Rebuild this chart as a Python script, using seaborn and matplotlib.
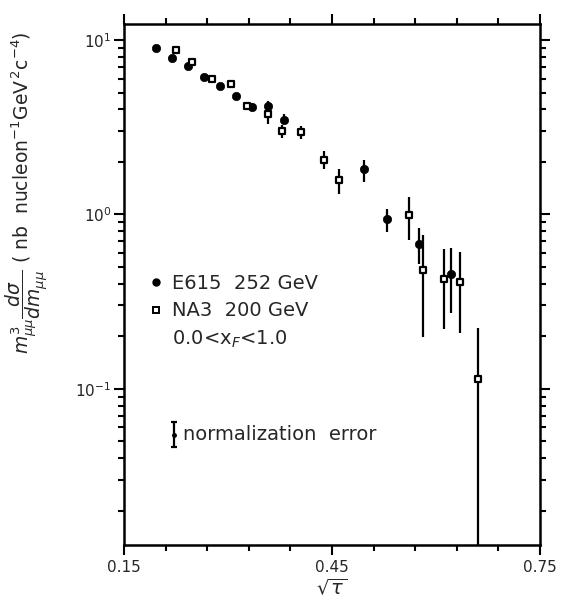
import numpy as np
import pandas as pd
import matplotlib
matplotlib.use("Agg")
import matplotlib.pyplot as plt
import seaborn as sns
from matplotlib.lines import Line2D
from matplotlib.ticker import FixedLocator, LogLocator, NullFormatter, FixedFormatter

# ---------------- data ----------------
e615_x = [0.196, 0.219, 0.242, 0.265, 0.288, 0.311, 0.335, 0.358, 0.381, 0.496, 0.529, 0.575, 0.622]
e615_y = [9.03, 7.91, 7.12, 6.15, 5.44, 4.77, 4.14, 4.19, 3.50, 1.81, 0.936, 0.678, 0.456]
e615_lo = [8.7, 7.6, 6.85, 5.9, 5.2, 4.55, 3.95, 3.95, 3.33, 1.53, 0.791, 0.521, 0.272]
e615_hi = [9.35, 8.2, 7.4, 6.4, 5.65, 5.0, 4.35, 4.45, 3.75, 2.06, 1.08, 0.839, 0.640]

na3_x = [0.225, 0.248, 0.277, 0.305, 0.327, 0.358, 0.378, 0.405, 0.438, 0.460, 0.561, 0.581, 0.612, 0.634, 0.661]
na3_y = [8.76, 7.44, 5.99, 5.61, 4.19, 3.74, 3.00, 2.95, 2.06, 1.57, 0.987, 0.481, 0.423, 0.408, 0.114]
na3_lo = [8.4, 7.15, 5.75, 5.4, 4.0, 3.32, 2.74, 2.69, 1.81, 1.30, 0.716, 0.197, 0.220, 0.208, 0.001]
na3_hi = [9.1, 7.75, 6.25, 5.85, 4.4, 3.96, 3.25, 3.20, 2.30, 1.81, 1.26, 0.757, 0.635, 0.607, 0.223]

legend_labels = ["E615  252 GeV", "NA3  200 GeV", r"0.0<x$_F$<1.0"]
norm_label = "normalization  error"
norm_x = 0.2224
norm_y = 0.0544
norm_lo = 0.0460
norm_hi = 0.0640

xtick_major = [0.15, 0.45, 0.75]
xtick_minor = [0.21, 0.27, 0.33, 0.39, 0.51, 0.57, 0.63, 0.69]
ylabel = r"$m^3_{\mu\mu}\dfrac{d\sigma}{dm_{\mu\mu}}$ ( nb  nucleon$^{-1}$GeV$^{\,2}$c$^{-4}$)"
xlabel = r"$\sqrt{\tau}$"

# ---------------- plot ----------------
sns.set_style("ticks")
plt.rcParams["font.family"] = ["DejaVu Sans"]
plt.rcParams["mathtext.fontset"] = "dejavusans"

fig = plt.figure(figsize=(5.61, 6.07), dpi=100)
ax = fig.add_axes([124 / 561, 1 - 545 / 607, 416 / 561, 521 / 607])

e615 = pd.DataFrame({"x": e615_x, "y": e615_y, "lo": e615_lo, "hi": e615_hi})
na3 = pd.DataFrame({"x": na3_x, "y": na3_y, "lo": na3_lo, "hi": na3_hi})

ax.vlines(e615["x"], e615["lo"], e615["hi"], color="black", lw=1.6, zorder=2)
ax.vlines(na3["x"], na3["lo"], na3["hi"], color="black", lw=1.6, zorder=2)

sns.scatterplot(data=e615, x="x", y="y", ax=ax, marker="o", s=36,
                color="black", edgecolor="black", linewidth=0.5, zorder=3, legend=False)
sns.scatterplot(data=na3, x="x", y="y", ax=ax, marker="s", s=24,
                facecolor="white", edgecolor="black", linewidth=1.6, zorder=4, legend=False)

ax.set_yscale("log")
ax.set_xlim(0.15, 0.75)
ax.set_ylim(0.01268, 12.36)

# normalization error marker
ax.errorbar([norm_x], [norm_y], yerr=[[norm_y - norm_lo], [norm_hi - norm_y]],
            fmt="none", ecolor="black", elinewidth=1.6, capsize=2.2, capthick=1.6)
ax.plot([norm_x], [norm_y], marker="o", ms=2.5, color="black")
ax.text(0.2345, norm_y, norm_label, fontsize=14, va="center", ha="left")

# legend
handles = [
    Line2D([], [], ls="", marker="o", ms=5, color="black"),
    Line2D([], [], ls="", marker="s", ms=4.5, mfc="white", mec="black", mew=1.4),
    Line2D([], [], ls="", marker=""),
]
leg = ax.legend(handles, legend_labels, loc="upper left", bbox_to_anchor=(0.060, 0.521),
                frameon=False, fontsize=14, handlelength=0.7, handletextpad=0.46,
                labelspacing=0.45, borderaxespad=0, borderpad=0)

# ticks
ax.xaxis.set_major_locator(FixedLocator(xtick_major))
ax.xaxis.set_minor_locator(FixedLocator(xtick_minor))
ax.xaxis.set_major_formatter(FixedFormatter([f"{v:.2f}" for v in xtick_major]))
ax.yaxis.set_major_locator(LogLocator(base=10, numticks=10))
ax.yaxis.set_minor_locator(LogLocator(base=10, subs=np.arange(2, 10), numticks=20))
ax.yaxis.set_minor_formatter(NullFormatter())

ax.tick_params(which="both", direction="out", top=True, right=True, width=1.5, color="black")
ax.tick_params(which="major", length=7, labelsize=11, pad=4)
ax.tick_params(which="minor", length=4.5)
ax.tick_params(axis="y", which="major", pad=2)

for sp in ax.spines.values():
    sp.set_linewidth(1.8)
    sp.set_color("black")
    sp.set_visible(True)

ax.set_xlabel(xlabel, fontsize=14)
ax.xaxis.set_label_coords(0.5, -0.062)
ax.set_ylabel(ylabel, fontsize=13.5)
ax.yaxis.set_label_coords(-0.178, 0.676)

fig.savefig("out.png", dpi=100)
